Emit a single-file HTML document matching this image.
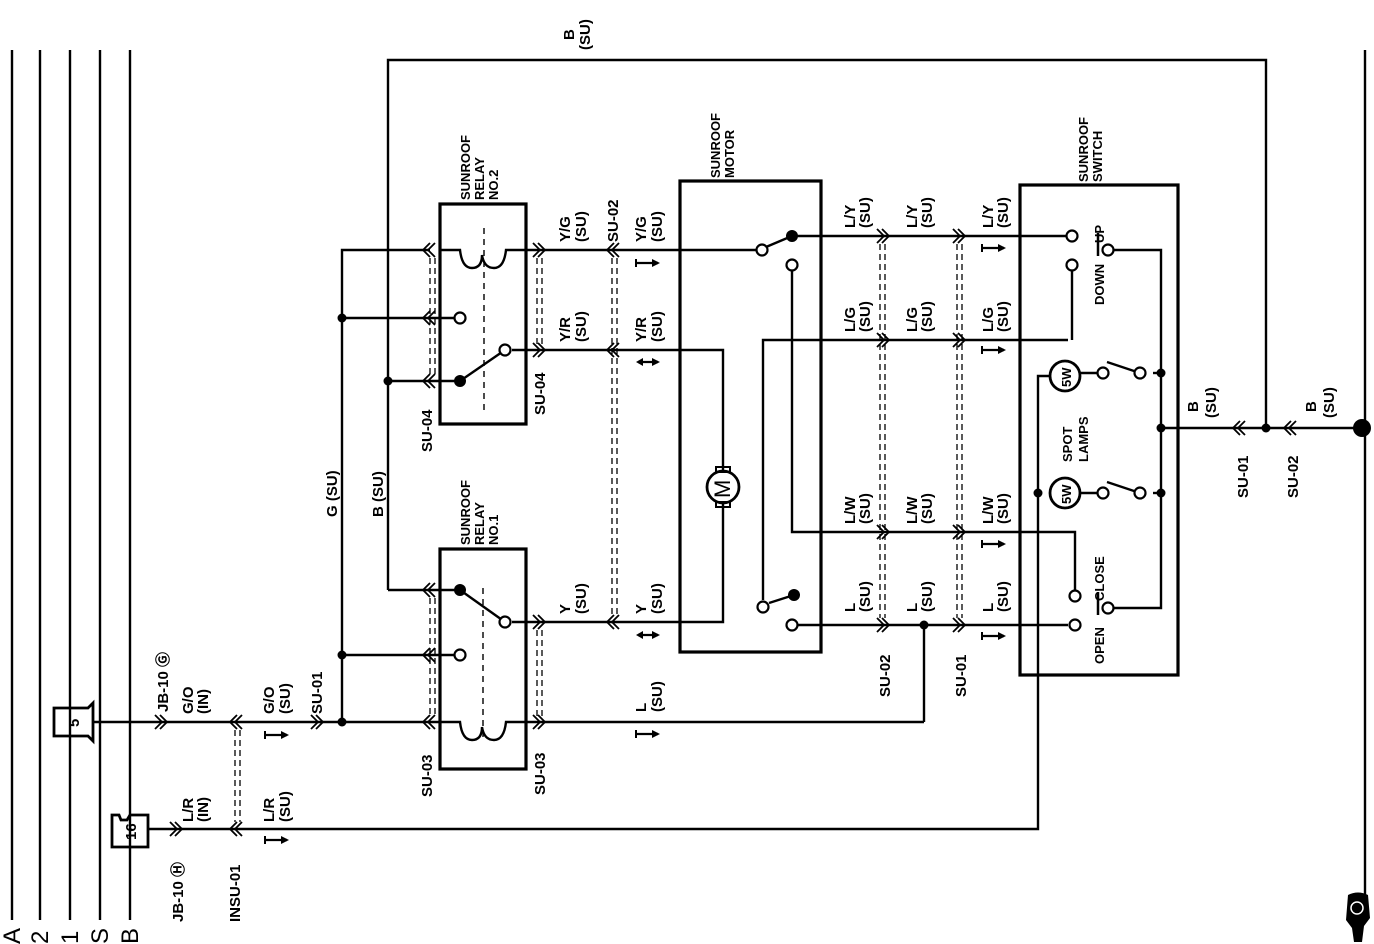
<!DOCTYPE html>
<html><head><meta charset="utf-8"><style>
html,body{margin:0;padding:0;background:#fff;}
svg{display:block}
text{font-family:"Liberation Sans",sans-serif;font-weight:bold;font-size:15px;fill:#000}
.s{font-size:13px}
.big{font-size:24px;font-weight:normal}
</style></head><body>
<svg width="1374" height="944" viewBox="0 0 1374 944" xmlns="http://www.w3.org/2000/svg">
<defs>
<path id="cl" d="M8,-7 L1,0 L8,7 M13,-7 L6,0 L13,7" fill="none" stroke="#000" stroke-width="1.8"/>
<path id="cr" d="M-8,-7 L-1,0 L-8,7 M-13,-7 L-6,0 L-13,7" fill="none" stroke="#000" stroke-width="1.8"/>
<g id="ar"><line x1="0" y1="0" x2="22" y2="0" stroke="#000" stroke-width="2.2"/><line x1="0" y1="-4" x2="0" y2="4" stroke="#000" stroke-width="2"/><path d="M16,-4 L24,0 L16,4Z"/></g>
<g id="ab"><line x1="2" y1="0" x2="22" y2="0" stroke="#000" stroke-width="2.2"/><path d="M7,-4 L0,0 L7,4Z M16,-4 L24,0 L16,4Z"/></g>
</defs>
<g fill="none" stroke="#000" stroke-width="2.4">
<line x1="12" y1="50" x2="12" y2="920"/>
<line x1="40" y1="50" x2="40" y2="920"/>
<line x1="70" y1="50" x2="70" y2="920"/>
<line x1="100" y1="50" x2="100" y2="920"/>
<line x1="130" y1="50" x2="130" y2="920"/>
<polyline points="388,590 388,60 1266,60 1266,428"/>
<line x1="1365" y1="50" x2="1365" y2="900"/>
<polyline points="430,250 342,250 342,722"/>
<line x1="342" y1="318" x2="460" y2="318"/>
<line x1="388" y1="381" x2="460" y2="381"/>
<line x1="342" y1="655" x2="460" y2="655"/>
<line x1="388" y1="590" x2="460" y2="590"/>
<line x1="92" y1="722" x2="440" y2="722"/>
<polyline points="148,829 1038,829 1038,376 1050,376"/>
<rect x="440" y="204" width="86" height="220" stroke-width="3.2"/>
<rect x="440" y="549" width="86" height="220" stroke-width="3.2"/>
<path d="M440,250 L460,250 Q462,268 472,268 Q482,268 482,255 Q484,268 494,268 Q504,268 506,250 L526,250"/>
<line x1="484" y1="228" x2="484" y2="410" stroke-dasharray="6,5" stroke-width="1.4"/>
<line x1="505" y1="350" x2="460" y2="381"/>
<path d="M440,722 L460,722 Q462,740 472,740 Q482,740 482,727 Q484,740 494,740 Q504,740 506,722 L526,722"/>
<line x1="483" y1="588" x2="483" y2="740" stroke-dasharray="6,5" stroke-width="1.4"/>
<line x1="460" y1="590" x2="505" y2="622"/>
<line x1="526" y1="250" x2="760" y2="250"/>
<polyline points="512,350 723,350 723,472"/>
<polyline points="512,622 723,622 723,502"/>
<line x1="526" y1="722" x2="924" y2="722"/>
<line x1="924" y1="722" x2="924" y2="625"/>
<rect x="680" y="181" width="141" height="471" stroke-width="3.2"/>
<line x1="766" y1="247" x2="792" y2="236"/>
<line x1="792" y1="236" x2="1068" y2="236"/>
<polyline points="792,270 792,532 1075,532 1075,594"/>
<polyline points="1068,340 763,340 763,600"/>
<line x1="769" y1="603" x2="794" y2="595"/>
<line x1="798" y1="625" x2="1068" y2="625"/>
<polyline points="1072,270 1072,340"/>
<rect x="1020" y="185" width="158" height="490" stroke-width="3.2"/>
<polyline points="1114,250 1161,250 1161,608 1114,608"/>
<line x1="1098" y1="233" x2="1098" y2="256" stroke-width="2.5"/>
<line x1="1098" y1="592" x2="1098" y2="615" stroke-width="2.5"/>
<line x1="1153" y1="373" x2="1161" y2="373"/>
<line x1="1153" y1="493" x2="1161" y2="493"/>
<line x1="1080" y1="373" x2="1098" y2="373"/>
<line x1="1080" y1="493" x2="1098" y2="493"/>
<line x1="1161" y1="428" x2="1365" y2="428"/>
<line x1="1107" y1="362" x2="1143" y2="374"/>
<line x1="1107" y1="482" x2="1143" y2="494"/>
<path d="M54,708 L88,708 L93,703 L93,741 L88,736 L54,736 Z" stroke-width="2.8"/>
<path d="M112,815 L119,815 L121,820 L127,820 L130,815 L148,815 L148,847 L112,847 Z" stroke-width="2.8"/>
<circle cx="723" cy="487" r="16" stroke-width="2.8"/>
<rect x="716" y="467" width="14" height="5" stroke-width="2"/>
<rect x="716" y="502" width="14" height="5" stroke-width="2"/>
<circle cx="1065" cy="376" r="15" stroke-width="2.8"/>
<circle cx="1065" cy="493" r="15" stroke-width="2.8"/>
</g>
<text transform="translate(730,498) rotate(-90)" style="font-size:22px;font-weight:normal">M</text>
<g fill="none" stroke="#000" stroke-width="1.3" stroke-dasharray="6,4">
<line x1="430" y1="258" x2="430" y2="375"/><line x1="435" y1="258" x2="435" y2="375"/>
<line x1="537" y1="258" x2="537" y2="345"/><line x1="542" y1="258" x2="542" y2="345"/>
<line x1="430" y1="598" x2="430" y2="716"/><line x1="435" y1="598" x2="435" y2="716"/>
<line x1="537" y1="630" x2="537" y2="716"/><line x1="542" y1="630" x2="542" y2="716"/>
<line x1="612" y1="258" x2="612" y2="615"/><line x1="617" y1="258" x2="617" y2="615"/>
<line x1="880" y1="244" x2="880" y2="618"/><line x1="885" y1="244" x2="885" y2="618"/>
<line x1="957" y1="244" x2="957" y2="618"/><line x1="962" y1="244" x2="962" y2="618"/>
<line x1="235" y1="730" x2="235" y2="822"/><line x1="240" y1="730" x2="240" y2="822"/>
</g>
<g fill="#fff" stroke="#000" stroke-width="2.2">
<circle cx="460" cy="318" r="5.5"/><circle cx="505" cy="350" r="5.5"/>
<circle cx="505" cy="622" r="5.5"/><circle cx="460" cy="655" r="5.5"/>
<circle cx="762" cy="250" r="5.5"/><circle cx="792" cy="265" r="5.5"/>
<circle cx="763" cy="607" r="5.5"/><circle cx="792" cy="625" r="5.5"/>
<circle cx="1072" cy="236" r="5.5"/><circle cx="1072" cy="265" r="5.5"/>
<circle cx="1108" cy="250" r="5.5"/><circle cx="1108" cy="608" r="5.5"/>
<circle cx="1075" cy="596" r="5.5"/><circle cx="1075" cy="625" r="5.5"/>
<circle cx="1103" cy="373" r="5.5"/><circle cx="1140" cy="373" r="5.5"/>
<circle cx="1103" cy="493" r="5.5"/><circle cx="1140" cy="493" r="5.5"/>
</g>
<g>
<circle cx="342" cy="318" r="4.5"/><circle cx="388" cy="381" r="4.5"/>
<circle cx="342" cy="655" r="4.5"/><circle cx="342" cy="722" r="4.5"/>
<circle cx="460" cy="381" r="6"/><circle cx="460" cy="590" r="6"/>
<circle cx="792" cy="236" r="6"/><circle cx="794" cy="595" r="6"/>
<circle cx="924" cy="625" r="4.5"/><circle cx="1038" cy="493" r="4.5"/>
<circle cx="1161" cy="373" r="4.5"/><circle cx="1161" cy="493" r="4.5"/>
<circle cx="1161" cy="428" r="4.5"/><circle cx="1266" cy="428" r="4.5"/>
<circle cx="1362" cy="428" r="9"/>
<path d="M1348,895 Q1358,890 1368,895 L1370,918 L1364,926 L1362,942 L1354,942 L1352,928 L1346,920 Z"/>
<circle cx="1357" cy="908" r="6" fill="none" stroke="#fff" stroke-width="1.5"/>
</g>
<use href="#cl" x="422" y="250"/><use href="#cl" x="422" y="318"/><use href="#cl" x="422" y="381"/>
<use href="#cl" x="422" y="590"/><use href="#cl" x="422" y="655"/><use href="#cl" x="422" y="722"/>
<use href="#cr" x="546" y="250"/><use href="#cr" x="546" y="350"/>
<use href="#cr" x="546" y="622"/><use href="#cr" x="546" y="722"/>
<use href="#cl" x="606" y="250"/><use href="#cl" x="606" y="350"/><use href="#cl" x="606" y="622"/>
<use href="#cr" x="890" y="236"/><use href="#cr" x="890" y="340"/><use href="#cr" x="890" y="532"/><use href="#cr" x="890" y="625"/>
<use href="#cr" x="966" y="236"/><use href="#cr" x="966" y="340"/><use href="#cr" x="966" y="532"/><use href="#cr" x="966" y="625"/>
<use href="#cr" x="168" y="722"/><use href="#cl" x="229" y="722"/><use href="#cr" x="324" y="722"/>
<use href="#cr" x="183" y="829"/><use href="#cl" x="229" y="829"/>
<use href="#cl" x="1232" y="428"/><use href="#cl" x="1283" y="428"/>
<use href="#ar" x="636" y="263"/><use href="#ab" x="636" y="362"/><use href="#ab" x="636" y="635"/><use href="#ar" x="636" y="734"/>
<use href="#ar" x="982" y="248"/><use href="#ar" x="982" y="350"/><use href="#ar" x="982" y="544"/><use href="#ar" x="982" y="636"/>
<use href="#ar" x="265" y="735"/><use href="#ar" x="265" y="840"/>
<g>
<text transform="translate(574,40) rotate(-90)">B</text>
<text transform="translate(590,50) rotate(-90)">(SU)</text>
<text transform="translate(470,200) rotate(-90)" class="s">SUNROOF</text>
<text transform="translate(484,200) rotate(-90)" class="s">RELAY</text>
<text transform="translate(498,200) rotate(-90)" class="s">NO.2</text>
<text transform="translate(470,545) rotate(-90)" class="s">SUNROOF</text>
<text transform="translate(484,545) rotate(-90)" class="s">RELAY</text>
<text transform="translate(498,545) rotate(-90)" class="s">NO.1</text>
<text transform="translate(720,178) rotate(-90)" class="s">SUNROOF</text>
<text transform="translate(734,178) rotate(-90)" class="s">MOTOR</text>
<text transform="translate(1088,182) rotate(-90)" class="s">SUNROOF</text>
<text transform="translate(1102,182) rotate(-90)" class="s">SWITCH</text>
<text transform="translate(570,242) rotate(-90)">Y/G</text><text transform="translate(586,242) rotate(-90)">(SU)</text>
<text transform="translate(618,242) rotate(-90)">SU-02</text>
<text transform="translate(646,242) rotate(-90)">Y/G</text><text transform="translate(662,242) rotate(-90)">(SU)</text>
<text transform="translate(570,342) rotate(-90)">Y/R</text><text transform="translate(586,342) rotate(-90)">(SU)</text>
<text transform="translate(646,342) rotate(-90)">Y/R</text><text transform="translate(662,342) rotate(-90)">(SU)</text>
<text transform="translate(432,452) rotate(-90)">SU-04</text>
<text transform="translate(545,415) rotate(-90)">SU-04</text>
<text transform="translate(570,614) rotate(-90)">Y</text><text transform="translate(586,614) rotate(-90)">(SU)</text>
<text transform="translate(646,614) rotate(-90)">Y</text><text transform="translate(662,614) rotate(-90)">(SU)</text>
<text transform="translate(646,712) rotate(-90)">L</text><text transform="translate(662,712) rotate(-90)">(SU)</text>
<text transform="translate(432,797) rotate(-90)">SU-03</text>
<text transform="translate(545,795) rotate(-90)">SU-03</text>
<text transform="translate(337,517) rotate(-90)">G (SU)</text>
<text transform="translate(383,517) rotate(-90)">B (SU)</text>
<text transform="translate(855,228) rotate(-90)">L/Y</text><text transform="translate(870,228) rotate(-90)">(SU)</text>
<text transform="translate(917,228) rotate(-90)">L/Y</text><text transform="translate(932,228) rotate(-90)">(SU)</text>
<text transform="translate(993,228) rotate(-90)">L/Y</text><text transform="translate(1008,228) rotate(-90)">(SU)</text>
<text transform="translate(855,332) rotate(-90)">L/G</text><text transform="translate(870,332) rotate(-90)">(SU)</text>
<text transform="translate(917,332) rotate(-90)">L/G</text><text transform="translate(932,332) rotate(-90)">(SU)</text>
<text transform="translate(993,332) rotate(-90)">L/G</text><text transform="translate(1008,332) rotate(-90)">(SU)</text>
<text transform="translate(855,524) rotate(-90)">L/W</text><text transform="translate(870,524) rotate(-90)">(SU)</text>
<text transform="translate(917,524) rotate(-90)">L/W</text><text transform="translate(932,524) rotate(-90)">(SU)</text>
<text transform="translate(993,524) rotate(-90)">L/W</text><text transform="translate(1008,524) rotate(-90)">(SU)</text>
<text transform="translate(855,612) rotate(-90)">L</text><text transform="translate(870,612) rotate(-90)">(SU)</text>
<text transform="translate(917,612) rotate(-90)">L</text><text transform="translate(932,612) rotate(-90)">(SU)</text>
<text transform="translate(993,612) rotate(-90)">L</text><text transform="translate(1008,612) rotate(-90)">(SU)</text>
<text transform="translate(890,697) rotate(-90)">SU-02</text>
<text transform="translate(966,697) rotate(-90)">SU-01</text>
<text transform="translate(1104,243) rotate(-90)" class="s">UP</text>
<text transform="translate(1104,305) rotate(-90)" class="s">DOWN</text>
<text transform="translate(1104,601) rotate(-90)" class="s">CLOSE</text>
<text transform="translate(1104,664) rotate(-90)" class="s">OPEN</text>
<text transform="translate(1072,462) rotate(-90)" class="s">SPOT</text>
<text transform="translate(1088,462) rotate(-90)" class="s">LAMPS</text>
<text transform="translate(1071,387) rotate(-90)" class="s">5W</text>
<text transform="translate(1071,504) rotate(-90)" class="s">5W</text>
<text transform="translate(1198,412) rotate(-90)">B</text><text transform="translate(1216,418) rotate(-90)">(SU)</text>
<text transform="translate(1316,412) rotate(-90)">B</text><text transform="translate(1334,418) rotate(-90)">(SU)</text>
<text transform="translate(1248,498) rotate(-90)">SU-01</text>
<text transform="translate(1298,498) rotate(-90)">SU-02</text>
<text transform="translate(168,712) rotate(-90)">JB-10 Ⓖ</text>
<text transform="translate(193,714) rotate(-90)">G/O</text><text transform="translate(208,714) rotate(-90)">(IN)</text>
<text transform="translate(274,714) rotate(-90)">G/O</text><text transform="translate(290,714) rotate(-90)">(SU)</text>
<text transform="translate(322,714) rotate(-90)">SU-01</text>
<text transform="translate(193,822) rotate(-90)">L/R</text><text transform="translate(208,822) rotate(-90)">(IN)</text>
<text transform="translate(274,822) rotate(-90)">L/R</text><text transform="translate(290,822) rotate(-90)">(SU)</text>
<text transform="translate(183,922) rotate(-90)">JB-10 Ⓗ</text>
<text transform="translate(240,922) rotate(-90)">INSU-01</text>
<text transform="translate(79,727) rotate(-90)">5</text>
<text transform="translate(136,840) rotate(-90)">16</text>
<text transform="translate(20,944) rotate(-90)" class="big">A</text>
<text transform="translate(48,944) rotate(-90)" class="big">2</text>
<text transform="translate(78,944) rotate(-90)" class="big">1</text>
<text transform="translate(108,944) rotate(-90)" class="big">S</text>
<text transform="translate(138,944) rotate(-90)" class="big">B</text>
</g>
</svg>
</body></html>
